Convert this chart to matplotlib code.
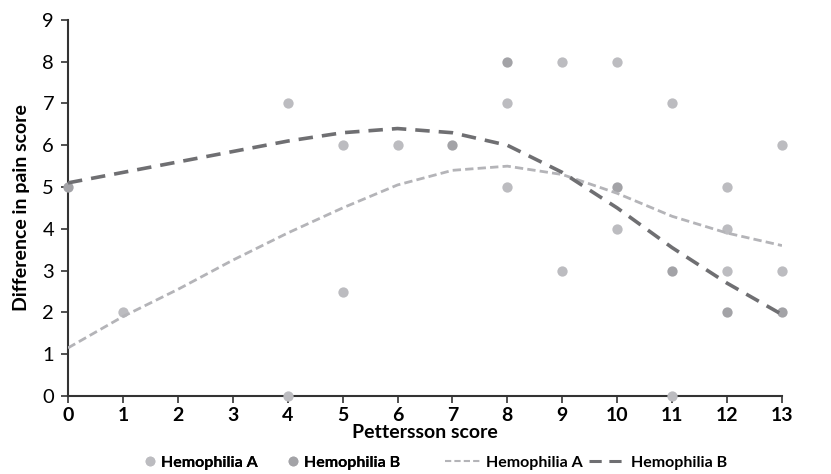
import numpy as np
import matplotlib.pyplot as plt
from matplotlib.lines import Line2D

# scatter data
hemo_a_x = [1, 4, 4, 5, 5, 6, 8, 8, 9, 9, 10, 10, 11, 11, 12, 12, 12, 13, 13]
hemo_a_y = [2, 7, 0, 6, 2.5, 6, 7, 5, 8, 3, 8, 4, 7, 0, 5, 4, 3, 6, 3]
hemo_b_x = [0, 7, 8, 10, 11, 12, 13]
hemo_b_y = [5, 6, 8, 5, 3, 2, 2]

# fitted trend curves
trend_x = [0, 1, 2, 3, 4, 5, 6, 7, 8, 9, 10, 11, 12, 13]
trend_a = [1.15, 1.9, 2.55, 3.25, 3.9, 4.5, 5.05, 5.4, 5.5, 5.3, 4.85, 4.3, 3.9, 3.6]
trend_b = [5.1, 5.35, 5.6, 5.85, 6.1, 6.3, 6.4, 6.3, 6.0, 5.35, 4.5, 3.55, 2.7, 1.95]

col_a = '#bcbcc0'
col_b = '#a3a3a7'
line_a = '#b4b4b8'
line_b = '#6f6f72'

plt.rcParams['font.family'] = ['Lato', 'DejaVu Sans']

fig = plt.figure(figsize=(8.31, 4.74), dpi=100)
ax = fig.add_axes([0.0818, 0.1646, 0.8592, 0.7934])

ax.scatter(hemo_a_x, hemo_a_y, s=55, color=col_a, zorder=3, clip_on=False, linewidths=0)
ax.scatter(hemo_b_x, hemo_b_y, s=55, color=col_b, zorder=3, clip_on=False, linewidths=0)
ax.plot(trend_x, trend_a, color=line_a, lw=2, dashes=(3, 1.5), zorder=4)
ax.plot(trend_x, trend_b, color=line_b, lw=2.6, dashes=(4, 2.5), zorder=4)

ax.set_xlim(0, 13)
ax.set_ylim(0, 9)
ax.set_xticks(range(0, 14))
ax.set_yticks(range(0, 10))
for s in ['top', 'right']:
    ax.spines[s].set_visible(False)
for s in ['left', 'bottom']:
    ax.spines[s].set_color('#333333')
    ax.spines[s].set_linewidth(1.5)
ax.tick_params(axis='both', direction='out', length=5, width=1.2, color='#333333')
ax.tick_params(axis='x', labelsize=14, pad=3)
ax.tick_params(axis='y', labelsize=14.5, pad=5)
for t in ax.get_xticklabels():
    t.set_fontweight('bold')

ax.set_xlabel('Pettersson score', fontsize=14, fontweight='bold', labelpad=0)
ax.set_ylabel('Difference in pain score', fontsize=14, fontweight='bold', labelpad=9)

# legend: markers and lines in two groups so handle lengths can differ
dot_handles = [
    Line2D([], [], marker='o', ls='none', color=col_a, markersize=6),
    Line2D([], [], marker='o', ls='none', color=col_b, markersize=6),
]
line_handles = [
    Line2D([], [], color=line_a, lw=1.5, dashes=(3, 1.5)),
    Line2D([], [], color=line_b, lw=2.2, dashes=(4, 2.5)),
]
leg1 = fig.legend(dot_handles, ['Hemophilia A', 'Hemophilia B'], loc='center left',
                  bbox_to_anchor=(0.175, 0.024), ncol=2, frameon=False,
                  prop={'size': 11.5, 'weight': 'bold'},
                  handlelength=0.6, handletextpad=0.4, columnspacing=1.9,
                  borderpad=0, borderaxespad=0)
leg2 = fig.legend(line_handles, ['Hemophilia A', 'Hemophilia B'], loc='center left',
                  bbox_to_anchor=(0.535, 0.024), ncol=2, frameon=False,
                  prop={'size': 11.5, 'weight': 'bold'},
                  handlelength=2.3, handletextpad=0.3, columnspacing=0.4,
                  borderpad=0, borderaxespad=0)
for t in leg2.get_texts():
    t.set_fontweight('bold')
fig.add_artist(leg1)

fig.savefig('out.png', dpi=100)
